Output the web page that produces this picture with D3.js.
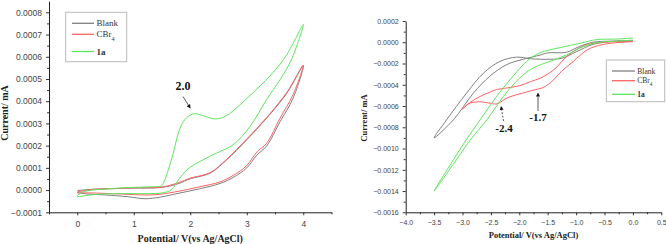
<!DOCTYPE html>
<html><head><meta charset="utf-8">
<script src="https://cdn.jsdelivr.net/npm/d3@7"></script>
<style>
html,body{margin:0;padding:0;background:#fff;}
svg{display:block;}
.tick text{font-family:"Liberation Sans",Arial,sans-serif;fill:#444;}
</style></head>
<body>
<svg id="c" width="666" height="244"></svg>
<script>
// ---------- DATA ----------
const seriesNames = ["Blank", "CBr4", "1a"];
const seriesColors = ["#808080", "#ff6262", "#5ee65e"];

// Left panel (anodic scan) : [potential V, current mA]
const leftBlank = [[0,-0.000002],[0.3,0.000004],[0.7,0.000007],[1.0,0.000009],[1.5,0.000012],[1.8,0.00003],[2.0,0.000051],[2.35,0.000076],[2.64,0.000135],[3.0,0.000226],[3.35,0.000323],[3.71,0.000436],[4.0,0.00056],
  [3.82,0.000413],[3.59,0.000308],[3.35,0.000198],[3.18,0.000158],[3.0,0.0001],[2.76,0.000057],[2.53,0.00003],[2.17,0.000006],[1.82,-0.000013],[1.46,-0.000032],[1.2,-0.000039],[0.9,-0.00003],[0.5,-0.000022],[0.2,-0.000018],[0,-0.000012]];
const leftCBr4 = [[0,-0.000008],[0.3,0.000003],[0.7,0.000007],[1.0,0.00001],[1.5,0.000014],[1.8,0.000034],[2.0,0.000054],[2.35,0.000078],[2.64,0.000138],[3.0,0.00023],[3.35,0.000326],[3.71,0.00044],[4.0,0.000562],
  [3.82,0.00043],[3.59,0.000324],[3.35,0.00021],[3.18,0.000172],[3.0,0.00011],[2.76,0.000066],[2.53,0.000037],[2.17,0.000015],[1.82,-0.000004],[1.46,-0.000019],[1.2,-0.000022],[0.8,-0.000018],[0.4,-0.000014],[0,-0.000012]];
const left1a = [[0,-0.000025],[0.1,-0.000008],[0.5,0.000005],[1.0,0.000012],[1.4,0.000016],[1.49,0.000019],[1.61,0.00009],[1.70,0.000167],[1.79,0.000257],[1.88,0.000309],[1.99,0.000336],[2.08,0.000344],[2.23,0.000335],[2.45,0.00032],[2.64,0.000335],[2.88,0.000384],[3.18,0.000455],[3.47,0.00053],[3.71,0.00061],[4.0,0.000745],
  [3.79,0.000587],[3.59,0.000497],[3.35,0.000407],[3.06,0.000287],[2.76,0.000204],[2.47,0.000167],[2.17,0.000129],[1.94,0.000091],[1.79,0.000046],[1.67,0.000002],[1.52,-0.000012],[1.2,-0.000016],[0.8,-0.000016],[0.4,-0.000018],[0,-0.00003]];

// Right panel (cathodic scan)
const rightBlank = [[0,0.000016],[-0.3,0.00001],[-0.7,-0.00002],[-1.0,-0.00009],[-1.25,-0.00015],[-1.45,-0.00016],[-1.8,-0.000155],[-2.05,-0.00014],[-2.34,-0.00018],[-2.63,-0.00029],[-2.93,-0.00048],[-3.28,-0.00073],[-3.5,-0.0009],
  [-3.16,-0.00073],[-2.81,-0.00048],[-2.52,-0.00032],[-2.22,-0.00021],[-1.93,-0.00016],[-1.63,-0.00012],[-1.5,-0.0001],[-1.17,-0.000094],[-0.94,-0.00004],[-0.7,0],[-0.4,0.00001],[0,0.00001]];
const rightCBr4 = [[0,0.000005],[-0.2,0],[-0.4,-0.00001],[-0.6,-0.00003],[-0.8,-0.00007],[-1.05,-0.00018],[-1.25,-0.00027],[-1.45,-0.00038],[-1.6,-0.00043],[-1.75,-0.00045],[-1.95,-0.00048],[-2.2,-0.00052],[-2.4,-0.00058],[-2.55,-0.00057],[-2.7,-0.00056],[-2.9,-0.00058],[-3.0,-0.00063],
  [-2.85,-0.00056],[-2.69,-0.00051],[-2.52,-0.00047],[-2.4,-0.000445],[-2.22,-0.00043],[-2.0,-0.00041],[-1.8,-0.00037],[-1.64,-0.00034],[-1.5,-0.0003],[-1.35,-0.00024],[-1.2,-0.00015],[-1.0,-0.00007],[-0.8,-0.00002],[-0.5,0],[-0.2,0.00001],[0,0.00001]];
const right1a = [[0,0.00004],[-0.3,0.00003],[-0.64,0.000025],[-0.93,-0.00001],[-1.28,-0.00005],[-1.64,-0.0001],[-1.87,-0.00018],[-2.11,-0.00032],[-2.4,-0.00051],[-2.69,-0.00073],[-2.95,-0.00093],[-3.2,-0.00114],[-3.5,-0.0014],
  [-3.1,-0.0011],[-2.85,-0.00091],[-2.57,-0.00073],[-2.28,-0.00051],[-1.99,-0.000335],[-1.75,-0.00024],[-1.46,-0.00018],[-1.17,-0.00012],[-0.87,-0.00004],[-0.58,0],[-0.3,0.00001],[0,0.00002]];

const leftXTicks = [0,1,2,3,4];
const leftYTicks = [-0.0001,0,0.0001,0.0002,0.0003,0.0004,0.0005,0.0006,0.0007,0.0008];
const rightXTicks = [-4.0,-3.5,-3.0,-2.5,-2.0,-1.5,-1.0,-0.5,0.0,0.5];
const rightYTicks = [-0.0016,-0.0014,-0.0012,-0.0010,-0.0008,-0.0006,-0.0004,-0.0002,0,0.0002];

const leftPeaks = [{label:"2.0"}];
const rightPeaks = [{label:"-1.7"},{label:"-2.4"}];

const xTitle = "Potential/ V(vs Ag/AgCl)";
const yTitle = "Current/ mA";

// ---------- DRAW ----------
const svg = d3.select("#c");
const serif = '"Liberation Serif","Times New Roman",serif';

function panel(cfg){
  const g = svg.append("g");
  const x = d3.scaleLinear().domain(cfg.xDom).range(cfg.xRange);
  const y = d3.scaleLinear().domain(cfg.yDom).range(cfg.yRange);
  // axes
  const xa = d3.axisBottom(x).tickValues(cfg.xTicks).tickFormat(cfg.xFmt).tickSize(3).tickSizeOuter(0);
  const ya = d3.axisLeft(y).tickValues(cfg.yTicks).tickFormat(d3.format(".4f")).tickSize(3).tickSizeOuter(0);
  const minorX = d3.axisBottom(x).tickValues(cfg.xMinor).tickFormat("").tickSize(2).tickSizeOuter(0);
  const minorY = d3.axisLeft(y).tickValues(cfg.yMinor).tickFormat("").tickSize(2).tickSizeOuter(0);
  const base = cfg.yRange[0];
  const left = cfg.xRange[0];
  g.append("g").attr("transform",`translate(0,${base})`).call(minorX).select(".domain").remove();
  g.append("g").attr("transform",`translate(${left},0)`).call(minorY).select(".domain").remove();
  const gx = g.append("g").attr("transform",`translate(0,${base})`).call(xa);
  const gy = g.append("g").attr("transform",`translate(${left},0)`).call(ya);
  gx.selectAll("text").attr("font-size",cfg.tickFs).attr("dy",cfg.xLabelDy);
  gy.selectAll("text").attr("font-size",cfg.tickFs).attr("dx",-1);
  g.selectAll(".domain").attr("stroke","#222");
  g.selectAll(".tick line").attr("stroke","#333");
  // titles
  g.append("text").attr("x",(cfg.xRange[0]+cfg.xRange[1])/2).attr("y",cfg.xTitleY)
    .attr("text-anchor","middle").attr("font-family",serif).attr("font-weight","bold")
    .attr("font-size",cfg.titleFs).attr("fill","#222").text(xTitle);
  g.append("text").attr("transform",`translate(${cfg.yTitleX},${cfg.yTitleY}) rotate(-90)`)
    .attr("text-anchor","middle").attr("dominant-baseline","middle").attr("font-family",serif).attr("font-weight","bold")
    .attr("font-size",cfg.titleFs).attr("fill","#222").text(yTitle);
  // curves
  const line = d3.line().x(d=>x(d[0])).y(d=>y(d[1])).curve(d3.curveCatmullRom.alpha(0.5));
  cfg.series.forEach((s,i)=>{
    g.append("path").attr("d",line(s)).attr("fill","none")
      .attr("stroke",seriesColors[i]).attr("stroke-width",1);
  });
  // legend
  const L = cfg.legend;
  g.append("rect").attr("x",L.x).attr("y",L.y).attr("width",L.w).attr("height",L.h)
    .attr("fill","#fff").attr("stroke","#bbb").attr("stroke-width",1);
  seriesNames.forEach((n,i)=>{
    const yy = L.rows[i];
    g.append("line").attr("x1",L.lx1).attr("x2",L.lx2).attr("y1",yy).attr("y2",yy)
      .attr("stroke",seriesColors[i]).attr("stroke-width",1.3);
    const t = g.append("text").attr("x",L.tx).attr("y",yy).attr("dy","0.35em")
      .attr("font-family",serif).attr("font-size",L.fs).attr("fill","#333");
    if(n==="CBr4"){ t.append("tspan").text("CBr"); t.append("tspan").attr("baseline-shift","sub").attr("font-size",L.fs*0.7).text("4"); }
    else { t.text(n); if(n==="1a") t.attr("font-weight","bold"); }
  });
  return {x,y,g};
}

function arrow(g, x1,y1,x2,y2, dashed){
  const ang = Math.atan2(y2-y1,x2-x1);
  const hl=4, hw=2;
  const bx = x2 - hl*Math.cos(ang), by = y2 - hl*Math.sin(ang);
  g.append("line").attr("x1",x1).attr("y1",y1).attr("x2",bx).attr("y2",by)
    .attr("stroke","#333").attr("stroke-width",0.8).attr("stroke-dasharray",dashed?"2,1.5":null);
  const px = -Math.sin(ang)*hw, py = Math.cos(ang)*hw;
  g.append("path").attr("d",`M${x2},${y2}L${bx+px},${by+py}L${bx-px},${by-py}Z`).attr("fill","#111");
}

// Left panel
const L = panel({
  xDom:[-0.5,4.5], xRange:[49,331.5], yDom:[-0.0001,0.00085], yRange:[212.3,1.2],
  xTicks:leftXTicks, xFmt:d3.format("d"), yTicks:leftYTicks,
  xMinor:[-0.5,0.5,1.5,2.5,3.5,4.5], yMinor:d3.range(-0.00005,0.00085,0.0001),
  tickFs:8.5, xLabelDy:"1.05em", titleFs:10, xTitleY:242, yTitleX:6, yTitleY:113,
  series:[leftBlank,leftCBr4,left1a],
  legend:{x:65.7,y:12.3,w:61,h:49.4,rows:[23.3,34.3,51.5],lx1:72,lx2:94,tx:96.5,fs:9}
});
L.g.append("text").attr("x",183).attr("y",90).attr("text-anchor","middle")
  .attr("font-family",serif).attr("font-weight","bold").attr("font-size",12).attr("fill","#111").text(leftPeaks[0].label);
arrow(L.g,183,96.5,190.5,108.5,false);

// Right panel
const R = panel({
  xDom:[-4,0.5], xRange:[405.7,661.3], yDom:[-0.0016,0.0002], yRange:[212.3,21],
  xTicks:rightXTicks, xFmt:d3.format(".1f"), yTicks:rightYTicks,
  xMinor:d3.range(-3.75,0.5,0.5), yMinor:d3.range(-0.0015,0.0002,0.0002),
  tickFs:7, xLabelDy:"0.95em", titleFs:8.5, xTitleY:238, yTitleX:365, yTitleY:118,
  series:[rightBlank,rightCBr4,right1a],
  legend:{x:606.3,y:60,w:58.4,h:41.7,rows:[71,80.7,94.3],lx1:612,lx2:635,tx:637.3,fs:7.5}
});
R.g.append("text").attr("x",538).attr("y",121).attr("text-anchor","middle")
  .attr("font-family",serif).attr("font-weight","bold").attr("font-size",11).attr("fill","#111").text(rightPeaks[0].label);
arrow(R.g,538,111,538,92.5,false);
R.g.append("text").attr("x",504).attr("y",132).attr("text-anchor","middle")
  .attr("font-family",serif).attr("font-weight","bold").attr("font-size",11).attr("fill","#111").text(rightPeaks[1].label);
arrow(R.g,503.5,121,501,106,true);
</script>
</body></html>
